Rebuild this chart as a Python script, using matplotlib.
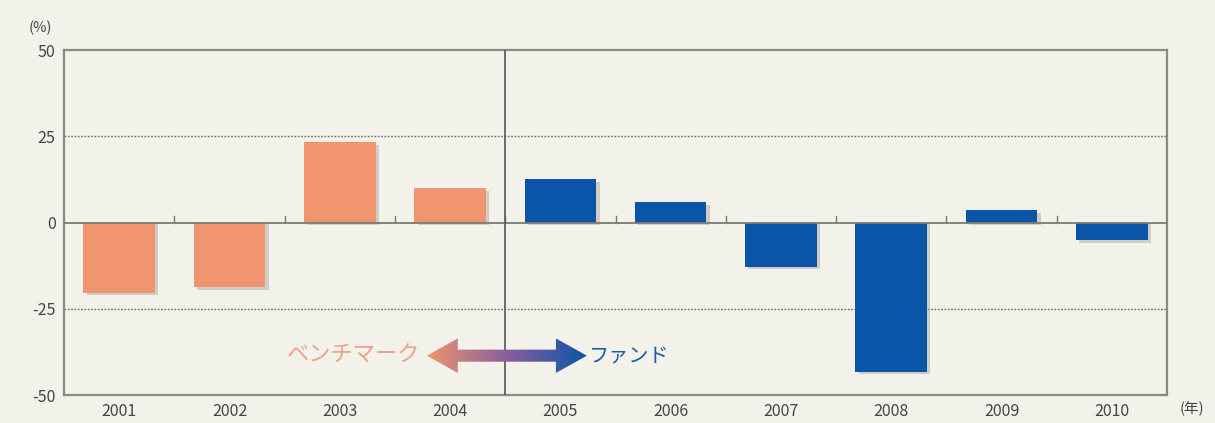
import matplotlib

matplotlib.use("Agg")

import matplotlib.pyplot as plt
import numpy as np
from matplotlib.colors import LinearSegmentedColormap
from matplotlib.patches import Polygon

plt.rcParams["font.family"] = ["Noto Sans CJK JP", "DejaVu Sans"]

years = ["2001", "2002", "2003", "2004", "2005", "2006", "2007", "2008", "2009", "2010"]
returns = [-20.3, -18.8, 23.2, 9.9, 12.5, 5.8, -12.8, -43.2, 3.5, -5.2]
is_fund = [False, False, False, False, True, True, True, True, True, True]
yticks = [-50, -25, 0, 25, 50]

ORANGE = "#f0956f"
BLUE = "#0a55a8"
BG = "#f2f1ea"

fig = plt.figure(figsize=(12.15, 4.23), dpi=100, facecolor=BG)
ax = fig.add_axes([64 / 1215, 28 / 423, (1167 - 64) / 1215, (395 - 50) / 423])
ax.set_facecolor(BG)

x = np.arange(len(years))
colors = [BLUE if f else ORANGE for f in is_fund]
width = 0.65

# soft drop shadow under each bar (offset right and down)
shadow = [r - 0.8 if r < 0 else r for r in returns]
ax.bar(x + 0.03, shadow, width=width, bottom=[-0.8 if r >= 0 else 0 for r in returns],
       color="#8e8b80", alpha=0.35, zorder=2, linewidth=0)
ax.bar(x, returns, width=width, color=colors, zorder=3, linewidth=0)

ax.set_yticks(yticks)
ax.set_yticklabels([str(v) for v in yticks], fontsize=11.5, color="#444444")
ax.set_xticks(x)
ax.set_xticklabels(years, fontsize=11.5, color="#444444")
ax.tick_params(axis="both", length=0, pad=6)

for v in (-25, 25):
    ax.axhline(v, color="#6b6b6b", linestyle=(0, (1.2, 1.2)), linewidth=1.0, zorder=1)
ax.axhline(0, color="#7a7a72", linewidth=1.3, zorder=4)
# small category dividers on the zero line
for b in np.arange(0.5, len(years) - 0.5):
    ax.plot([b, b], [0, 1.8], color="#7a7a72", linewidth=1.0, zorder=4)
ax.axvline(3.5, color="#555555", linewidth=1.2, zorder=4)

for s in ax.spines.values():
    s.set_color("#8a8a82")
    s.set_linewidth(1.6)

# gradient double arrow: benchmark <-> fund
x0, x1, yc = 2.79, 4.24, -38.6
hh, sh, head = 5.0, 1.75, 0.28
pts = [(x0, yc), (x0 + head, yc + hh), (x0 + head, yc + sh), (x1 - head, yc + sh),
       (x1 - head, yc + hh), (x1, yc), (x1 - head, yc - hh), (x1 - head, yc - sh),
       (x0 + head, yc - sh), (x0 + head, yc - hh)]
arrow = Polygon(pts, closed=True, facecolor="none", edgecolor="none", zorder=5)
ax.add_patch(arrow)
grad = LinearSegmentedColormap.from_list("bm_fund", [ORANGE, "#8a5e9c", BLUE])
img = ax.imshow(np.linspace(0, 1, 256).reshape(1, -1), cmap=grad, aspect="auto",
                extent=[x0, x1, yc - hh, yc + hh], zorder=5, interpolation="bilinear")
img.set_clip_path(arrow)
ax.set_xlim(-0.5, len(years) - 0.5)
ax.set_ylim(-50, 50)

ax.text(x0 - 0.06, yc, "ベンチマーク", ha="right", va="center", fontsize=16,
        color="#eda38a", zorder=6)
ax.text(x1 + 0.01, yc, "ファンド", ha="left", va="center", fontsize=14.5,
        color="#1f5aa6", zorder=6)

fig.text(40 / 1215, 1 - 28 / 423, "(%)", ha="center", va="center", fontsize=10.5,
         color="#444444")
fig.text(1192 / 1215, 1 - 409 / 423, "(年)", ha="center", va="center", fontsize=10.5,
         color="#444444")

fig.savefig("out.png", dpi=100, facecolor=BG)
